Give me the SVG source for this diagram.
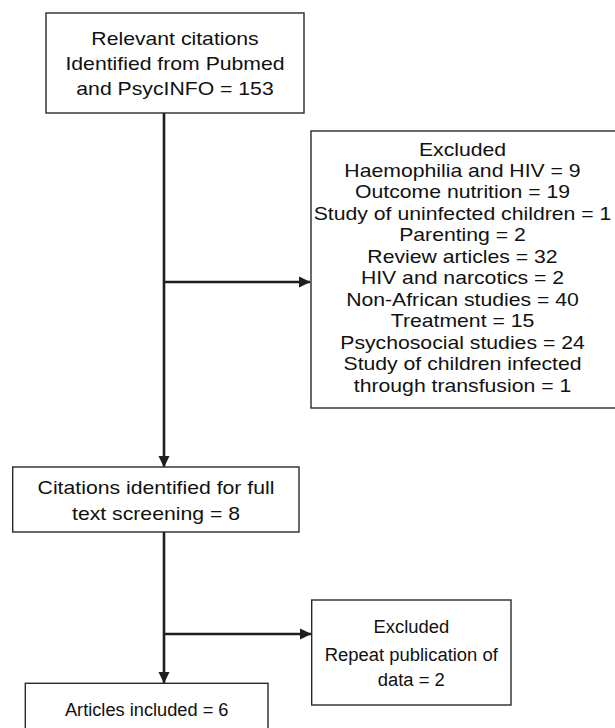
<svg xmlns="http://www.w3.org/2000/svg" width="615" height="728" viewBox="0 0 615 728">
<style>
.box{fill:#fff;stroke:#2a2a2a;stroke-width:1.4}
.t{font-family:"Liberation Sans",Arial,Helvetica,sans-serif;font-size:18.6px;fill:#111;text-anchor:middle}
.c{stroke:#1e1e1e;stroke-width:2.6;fill:none}
</style>
<defs>
<marker id="ah" markerUnits="userSpaceOnUse" markerWidth="12" markerHeight="12" viewBox="0 0 12 12" refX="11" refY="6" orient="auto">
<path d="M0,0.5 L11.5,6 L0,11.5 Z" fill="#1e1e1e"/>
</marker>
</defs>
<rect width="615" height="728" fill="#fff"/>
<g id="connectors">
<line class="c" x1="164" y1="113" x2="164" y2="467" marker-end="url(#ah)"/>
<line class="c" x1="164" y1="282" x2="310" y2="282" marker-end="url(#ah)"/>
<line class="c" x1="164" y1="532" x2="164" y2="683" marker-end="url(#ah)"/>
<line class="c" x1="164" y1="634" x2="311" y2="634" marker-end="url(#ah)"/>
</g>
<g id="n_identified">
<rect class="box" x="46" y="13" width="258" height="100"/>
<g transform="translate(175 0) scale(1.14 1)">
<text class="t" x="0" y="45">Relevant citations</text>
<text class="t" x="0" y="70">Identified from Pubmed</text>
<text class="t" x="0" y="95.5">and PsycINFO = 153</text>
</g>
</g>
<g id="n_excluded1">
<rect class="box" x="311" y="131" width="310" height="277"/>
<g transform="translate(462.5 0) scale(1.14 1)">
<text class="t" x="0" y="156">Excluded</text>
<text class="t" x="0" y="177">Haemophilia and HIV = 9</text>
<text class="t" x="0" y="198.5">Outcome nutrition = 19</text>
<text class="t" x="0" y="220">Study of uninfected children = 1</text>
<text class="t" x="0" y="241.5">Parenting = 2</text>
<text class="t" x="0" y="263">Review articles = 32</text>
<text class="t" x="0" y="284.5">HIV and narcotics = 2</text>
<text class="t" x="0" y="306">Non-African studies = 40</text>
<text class="t" x="0" y="327.5">Treatment = 15</text>
<text class="t" x="0" y="349">Psychosocial studies = 24</text>
<text class="t" x="0" y="370.5">Study of children infected</text>
<text class="t" x="0" y="392">through transfusion = 1</text>
</g>
</g>
<g id="n_fulltext">
<rect class="box" x="12.7" y="467" width="286.3" height="65"/>
<g transform="translate(156 0) scale(1.14 1)">
<text class="t" x="0" y="494">Citations identified for full</text>
<text class="t" x="0" y="520">text screening = 8</text>
</g>
</g>
<g id="n_excluded2">
<rect class="box" x="311.7" y="600" width="199.3" height="105"/>
<g transform="translate(411.3 0) scale(0.99 1)">
<text class="t" x="0" y="633">Excluded</text>
<text class="t" x="0" y="661">Repeat publication of</text>
<text class="t" x="0" y="686">data = 2</text>
</g>
</g>
<g id="n_included">
<rect class="box" x="25.3" y="683.3" width="242.7" height="60"/>
<g transform="translate(146.7 0) scale(0.98 1)">
<text class="t" x="0" y="715.7">Articles included = 6</text>
</g>
</g>
</svg>
